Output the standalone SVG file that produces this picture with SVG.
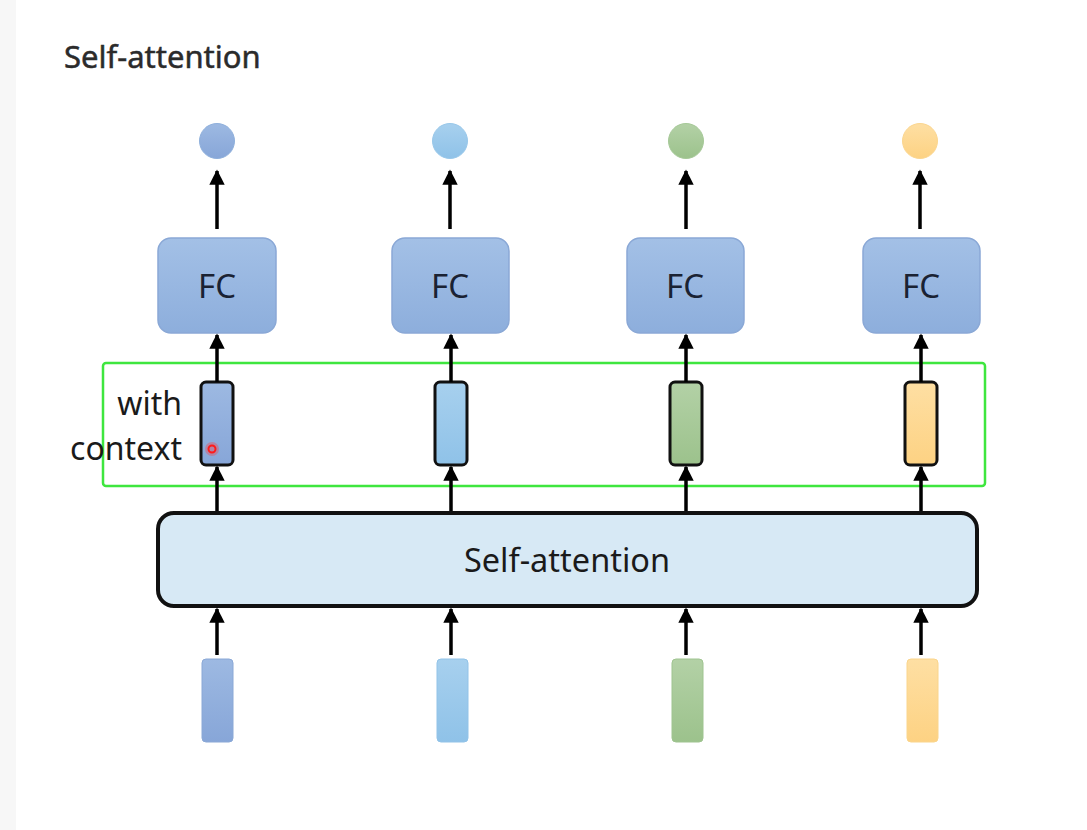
<svg xmlns="http://www.w3.org/2000/svg" width="1087" height="830" viewBox="0 0 1087 830">
<defs>
<style>
.ttl{font-family:"Noto Sans","Open Sans",sans-serif;font-size:31px;fill:#2b2b2b;stroke:#2b2b2b;stroke-width:0.5}
.lbl{font-family:"Noto Sans","Open Sans",sans-serif;font-size:32px;fill:#1a1a1a}
.fct{font-family:"Noto Sans","Open Sans",sans-serif;font-size:33px;fill:#1a2233}
.sat{font-family:"Noto Sans","Open Sans",sans-serif;font-size:32.5px;fill:#1a1a1a}
.fc{stroke:#8aa8d6;stroke-width:1.5}
.ctx{stroke:#111;stroke-width:3}
.ar{stroke:#000;stroke-width:3.5;fill:none;marker-end:url(#ah)}
</style>
<marker id="ah" viewBox="0 0 10 10" refX="9" refY="5" markerWidth="4.4" markerHeight="4.4" orient="auto" markerUnits="strokeWidth">
<path d="M0,0 L10,5 L0,10 Z" fill="#000"/>
</marker>
<linearGradient id="gFC" x1="0" y1="0" x2="0" y2="1"><stop offset="0" stop-color="#a3c0e6"/><stop offset="1" stop-color="#8daedc"/></linearGradient>
<linearGradient id="gB1" x1="0" y1="0" x2="0" y2="1"><stop offset="0" stop-color="#9db9e2"/><stop offset="1" stop-color="#87a6d8"/></linearGradient>
<linearGradient id="gB2" x1="0" y1="0" x2="0" y2="1"><stop offset="0" stop-color="#a7d0ee"/><stop offset="1" stop-color="#8fc2e8"/></linearGradient>
<linearGradient id="gG" x1="0" y1="0" x2="0" y2="1"><stop offset="0" stop-color="#b3d1a6"/><stop offset="1" stop-color="#9cc28c"/></linearGradient>
<linearGradient id="gY" x1="0" y1="0" x2="0" y2="1"><stop offset="0" stop-color="#fedfa3"/><stop offset="1" stop-color="#fdd283"/></linearGradient>
</defs>
<rect x="0" y="0" width="1087" height="830" fill="#ffffff"/>
<rect x="0" y="0" width="16" height="830" fill="#f7f7f7"/>
<text class="ttl" x="64" y="68">Self-attention</text>

<g id="outputs">
<circle cx="217" cy="141" r="17.5" fill="url(#gB1)" stroke="#8fb0dc" stroke-width="1"/>
<circle cx="450" cy="141" r="17.5" fill="url(#gB2)" stroke="#99c8ea" stroke-width="1"/>
<circle cx="686" cy="141" r="17.5" fill="url(#gG)" stroke="#a6c998" stroke-width="1"/>
<circle cx="920" cy="141" r="17.5" fill="url(#gY)" stroke="#fbd690" stroke-width="1"/>
</g>

<g id="fc1"><rect class="fc" x="158" y="238" width="118" height="95" rx="13" fill="url(#gFC)"/><text class="fct" x="217" y="298" text-anchor="middle">FC</text></g>
<g id="fc2"><rect class="fc" x="392" y="238" width="117" height="95" rx="13" fill="url(#gFC)"/><text class="fct" x="450" y="298" text-anchor="middle">FC</text></g>
<g id="fc3"><rect class="fc" x="627" y="238" width="117" height="95" rx="13" fill="url(#gFC)"/><text class="fct" x="685" y="298" text-anchor="middle">FC</text></g>
<g id="fc4"><rect class="fc" x="863" y="238" width="117" height="95" rx="13" fill="url(#gFC)"/><text class="fct" x="921" y="298" text-anchor="middle">FC</text></g>

<g id="highlight">
<rect x="103" y="363" width="882" height="123" rx="3" fill="none" stroke="#3ee63e" stroke-width="2.5"/>
</g>

<g id="label"><text class="lbl" x="182" y="415" text-anchor="end">with</text><text class="lbl" x="182" y="460" text-anchor="end">context</text></g>

<g id="ctx1"><rect class="ctx" x="201" y="382" width="32" height="83" rx="5" fill="url(#gB1)"/></g>
<g id="ctx2"><rect class="ctx" x="435" y="382" width="32" height="83" rx="5" fill="url(#gB2)"/></g>
<g id="ctx3"><rect class="ctx" x="670" y="382" width="32" height="83" rx="5" fill="url(#gG)"/></g>
<g id="ctx4"><rect class="ctx" x="905" y="382" width="32" height="83" rx="5" fill="url(#gY)"/></g>

<g id="selfattn">
<rect x="158" y="513" width="819" height="93" rx="16" fill="#d7e9f5" stroke="#111" stroke-width="4"/>
<text class="sat" x="567" y="572" text-anchor="middle">Self-attention</text>
</g>

<g id="inputs">
<rect x="202" y="659" width="31" height="83" rx="4" fill="url(#gB1)" stroke="#8aa8d6" stroke-width="1"/>
<rect x="437" y="659" width="31" height="83" rx="4" fill="url(#gB2)" stroke="#92c3e8" stroke-width="1"/>
<rect x="672" y="659" width="31" height="83" rx="4" fill="url(#gG)" stroke="#9fc490" stroke-width="1"/>
<rect x="907" y="659" width="31" height="83" rx="4" fill="url(#gY)" stroke="#fad58c" stroke-width="1"/>
</g>

<g id="connectors">
<line class="ar" x1="217" y1="229" x2="217" y2="171"/>
<line class="ar" x1="450" y1="229" x2="450" y2="171"/>
<line class="ar" x1="686" y1="229" x2="686" y2="171"/>
<line class="ar" x1="920" y1="229" x2="920" y2="171"/>
<line class="ar" x1="217" y1="382" x2="217" y2="335"/>
<line class="ar" x1="451" y1="382" x2="451" y2="335"/>
<line class="ar" x1="686" y1="382" x2="686" y2="335"/>
<line class="ar" x1="921" y1="382" x2="921" y2="335"/>
<line class="ar" x1="217" y1="511" x2="217" y2="467"/>
<line class="ar" x1="451" y1="511" x2="451" y2="467"/>
<line class="ar" x1="686" y1="511" x2="686" y2="467"/>
<line class="ar" x1="921" y1="511" x2="921" y2="467"/>
<line class="ar" x1="217" y1="655" x2="217" y2="609"/>
<line class="ar" x1="451" y1="655" x2="451" y2="609"/>
<line class="ar" x1="686" y1="655" x2="686" y2="609"/>
<line class="ar" x1="921" y1="655" x2="921" y2="609"/>
</g>

<g id="pointer">
<circle cx="212" cy="449" r="7" fill="#ff3b3b" opacity="0.35"/>
<circle cx="212" cy="449" r="3.5" fill="none" stroke="#ff1a1a" stroke-width="2"/>
</g>
</svg>
